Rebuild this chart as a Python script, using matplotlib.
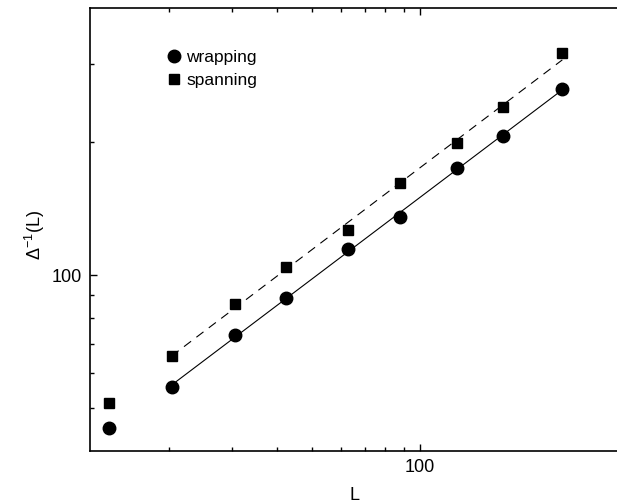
import matplotlib
matplotlib.use('Agg')
import matplotlib.pyplot as plt
import numpy as np

plt.rcParams['font.family'] = ['Liberation Sans', 'DejaVu Sans']
plt.rcParams['mathtext.fontset'] = 'custom'
plt.rcParams['mathtext.rm'] = 'Liberation Sans'
plt.rcParams['mathtext.it'] = 'Liberation Sans:italic'

# data
L = [13.6, 20.3, 30.4, 42.2, 62.9, 87.8, 126.4, 170.5, 248.8]
wrapping = [45.0, 55.7, 73.2, 88.6, 114.3, 135.5, 175.1, 206.7, 263.1]
spanning = [51.3, 65.7, 86.0, 104.1, 126.4, 161.8, 198.6, 240.3, 317.3]

x_minor = [20, 30, 40, 50, 60, 70, 80, 90]
y_minor = [50, 60, 70, 80, 90, 200, 300]

fig = plt.figure(figsize=(6.17, 5.03), dpi=100)
ax = fig.add_axes([0.1459, 0.1034, 0.856, 0.8807])

ax.set_xscale('log')
ax.set_yscale('log')

# power-law fits through the points from L = 20 on
Lf = np.array(L[1:])
for vals, ls in ((wrapping, '-'), (spanning, (0, (8, 6)))):
    k, b = np.polyfit(np.log10(Lf), np.log10(vals[1:]), 1)
    xs = np.array([Lf[0], Lf[-1]])
    ax.plot(xs, 10 ** (b + k * np.log10(xs)), color='black', lw=0.8, ls=ls)

ax.plot(L, wrapping, 'o', color='black', ms=9, label='wrapping')
ax.plot(L, spanning, 's', color='black', ms=6.5, label='spanning')

ax.set_xlim(12.03, 356)
ax.set_ylim(40, 402)

ax.set_xticks([100])
ax.set_xticklabels(['100'])
ax.set_xticks(x_minor, minor=True)
ax.set_xticklabels([], minor=True)
ax.set_yticks([100])
ax.set_yticklabels(['100'])
ax.set_yticks(y_minor, minor=True)
ax.set_yticklabels([], minor=True)

ax.tick_params(which='both', direction='in', top=True, right=False,
               labelsize=13, width=1.0, pad=6)
ax.tick_params(which='major', length=5)
ax.tick_params(which='minor', length=3)
ax.spines['right'].set_visible(False)
for s in ('left', 'bottom', 'top'):
    ax.spines[s].set_linewidth(1.2)

ax.set_xlabel('L', fontsize=13, labelpad=8)
ax.set_ylabel(r'$\mathregular{\Delta^{-1}(L)}$', fontsize=13)
ax.yaxis.set_label_coords(-0.082, 0.488)

ax.legend(loc='upper left', bbox_to_anchor=(0.133, 0.922), frameon=False,
          fontsize=12.5, handlelength=0.8, handletextpad=0.3,
          labelspacing=0.5, borderaxespad=0)

fig.savefig('out.png', dpi=100)
